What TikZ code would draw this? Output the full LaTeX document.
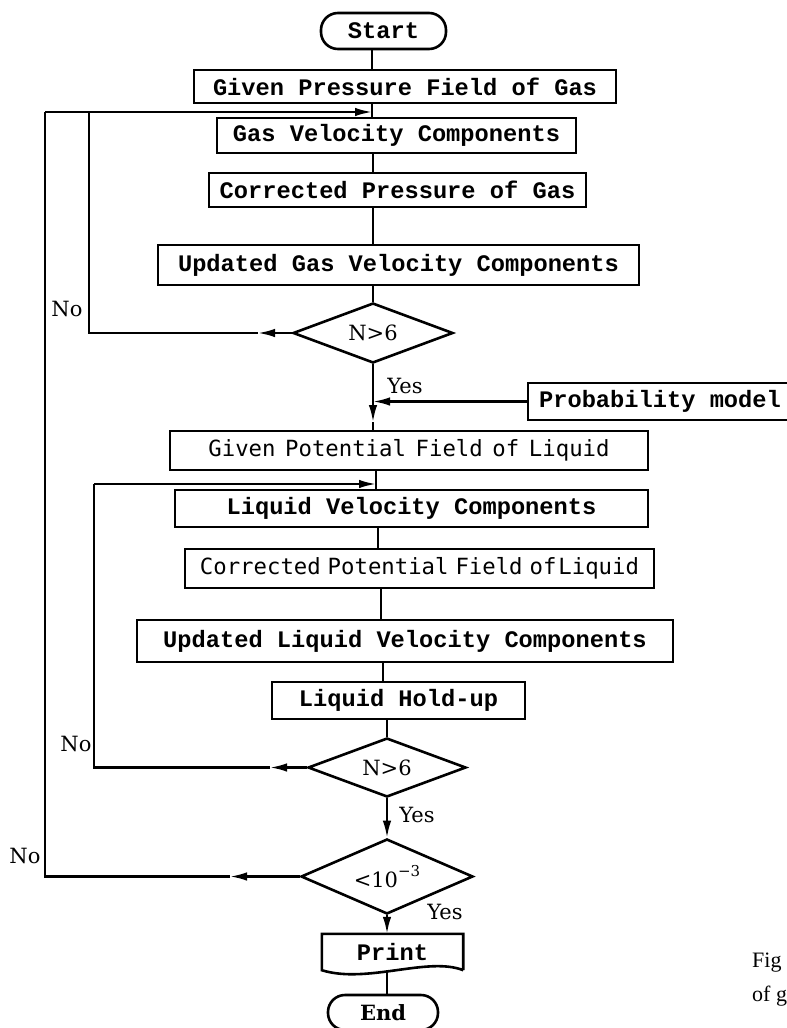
\documentclass[tikz,border=0pt]{standalone}
\usepackage{fontspec}
\usetikzlibrary{shapes.geometric,arrows.meta}
\newfontfamily\monof{Liberation Mono}
\newfontfamily\ocrfont{DejaVu Sans Mono}
\newfontfamily\ocrtight{DejaVu Sans Mono}[WordSpace=0.72]
\newfontfamily\lblf{DejaVu Serif}
\newfontfamily\capf{Liberation Serif}
\newcommand{\mainfnt}{\monof\bfseries\fontsize{23.7}{28}\selectfont}
\newcommand{\lblfnt}{\lblf\fontsize{21}{24}\selectfont}
\tikzset{
  proc/.style={draw, line width=2.6pt, inner sep=0pt, font=\mainfnt},
  term/.style={proc, rounded corners=17pt},
  dec/.style={draw, line width=2.6pt, shape=diamond, inner sep=0pt, font=\lblfnt},
  conn/.style={line width=2.2pt},
  arr/.style={conn, -{Latex[length=17pt,width=8.5pt]}},
  lab/.style={inner sep=0pt, font=\lblfnt},
}
\begin{document}
\begin{tikzpicture}[x=1pt,y=-1pt]
\useasboundingbox (0,0) rectangle (787,1028);
% spine columns
\coordinate (sA) at (372,0);
\coordinate (sB) at (373,0);
\coordinate (sD) at (376,0);
\coordinate (sE) at (378,0);
\coordinate (sF) at (381,0);
\coordinate (sG) at (383,0);
\coordinate (xo) at (45,0);
\coordinate (xi1) at (89,0);
\coordinate (xi2) at (94,0);
% nodes
\node[term, minimum width=125pt, minimum height=36pt] (start) at (383.5,31) {Start};
\node[proc, minimum width=422pt, minimum height=33pt] (gp) at (405,86.5) {Given Pressure Field of Gas};
\node[proc, minimum width=359pt, minimum height=35pt] (gv) at (396.5,135.5) {Gas Velocity Components};
\node[proc, minimum width=377pt, minimum height=34pt] (cp) at (397.5,190) {Corrected Pressure of Gas};
\node[proc, minimum width=481pt, minimum height=40pt] (ug) at (398.5,265) {Updated Gas Velocity Components};
\node[dec, minimum width=160pt, minimum height=60pt, aspect=2.67] (d1) at (373,333) {N>6};
\node[proc, minimum width=264pt, minimum height=37pt] (prob) at (660,401.5) {Probability model};
\node[proc, minimum width=478pt, minimum height=39pt, font=\ocrfont\fontsize{22.3}{26}\selectfont] (gpl) at (409,450.5) {Given Potential Field of Liquid};
\node[proc, minimum width=473pt, minimum height=37pt] (lv) at (411.5,508.5) {Liquid Velocity Components};
\node[proc, minimum width=469pt, minimum height=39pt, font=\ocrtight\fontsize{22.3}{26}\selectfont] (cpl) at (419.5,568.5) {Corrected Potential Field of\hspace{2pt}Liquid};
\node[proc, minimum width=536pt, minimum height=42pt] (ul) at (405,641) {Updated Liquid Velocity Components};
\node[proc, minimum width=253pt, minimum height=37pt] (hu) at (398.5,700.5) {Liquid Hold-up};
\node[dec, minimum width=158pt, minimum height=59pt, aspect=2.68] (d2) at (387,767.5) {N>6};
\node[dec, minimum width=172pt, minimum height=75pt, aspect=2.3] (d3) at (387,876.5) {<10\raisebox{0.5em}{\fontsize{15}{15}\selectfont −3}};
\node[inner sep=0pt, minimum width=141pt, minimum height=36pt, font=\mainfnt] (print) at (392.5,952) {Print};
\node[term, minimum width=110pt, minimum height=35pt, font=\lblf\bfseries\fontsize{21}{24}\selectfont] (end) at (383,1012.5) {End};
\draw[line width=2.6pt] (print.south east) -- (print.north east) -- (print.north west) -- (print.south west)
  .. controls +(45,14) and +(-35,-14) .. (print.south east);
% labels
\node[lab] (no1) at (67,309) {No};
\node[lab] (no2) at (76,744) {No};
\node[lab] (no3) at (25,856) {No};
\node[lab] (yes1) at (405,386) {Yes};
\node[lab] (yes2) at (417,815) {Yes};
\node[lab] (yes3) at (445,912) {Yes};
\node[anchor=west, inner sep=0pt, font=\capf\fontsize{22}{26}\selectfont] (fig1) at (752,963) {Fig};
\node[anchor=west, inner sep=0pt, font=\capf\fontsize{22}{26}\selectfont] (fig2) at (752,996) {of g};
% helper coordinates
\coordinate (j1) at (372,112);
\coordinate (j2) at (376,484);
\coordinate (m1) at (258,333);
\coordinate (m2) at (270,767.5);
\coordinate (m3) at (230,876.5);
\coordinate (m4) at (373,422);
% spine
\draw[conn] (start.south -| sA) -- (gp.north -| sA);
\draw[conn] (gp.south -| sA) -- (gv.north -| sA);
\draw[conn] (gv.south -| sB) -- (cp.north -| sB);
\draw[conn] (cp.south -| sB) -- (ug.north -| sB);
\draw[conn] (ug.south -| sB) -- (d1.north);
\draw[arr] (d1.south) -- (m4);
\draw[conn] (m4) -- (gpl.north -| sB);
\draw[arr] (prob.west) -- (prob.west -| sB);
\draw[conn] (gpl.south -| sD) -- (lv.north -| sD);
\draw[conn] (lv.south -| sE) -- (cpl.north -| sE);
\draw[conn] (cpl.south -| sF) -- (ul.north -| sF);
\draw[conn] (ul.south -| sG) -- (hu.north -| sG);
\draw[conn] (hu.south -| d2.north) -- (d2.north);
\draw[arr] (d2.south) -- (d3.north);
\draw[arr] (d3.south) -- (d3.south |- print.north);
\draw[conn] (print.south -| d3.south) -- (end.north -| d3.south);
% loops
\draw[arr] (d1.west) -- (m1);
\draw[conn] (m1) -- (m1 -| xi1) -- (xi1 |- j1);
\draw[arr] (xo |- j1) -- (j1);
\draw[arr] (d2.west) -- (m2);
\draw[conn] (m2) -- (m2 -| xi2) -- (xi2 |- j2);
\draw[arr] (xi2 |- j2) -- (j2);
\draw[arr] (d3.west) -- (m3);
\draw[conn] (m3) -- (m3 -| xo) -- (xo |- j1);
\end{tikzpicture}
\end{document}
